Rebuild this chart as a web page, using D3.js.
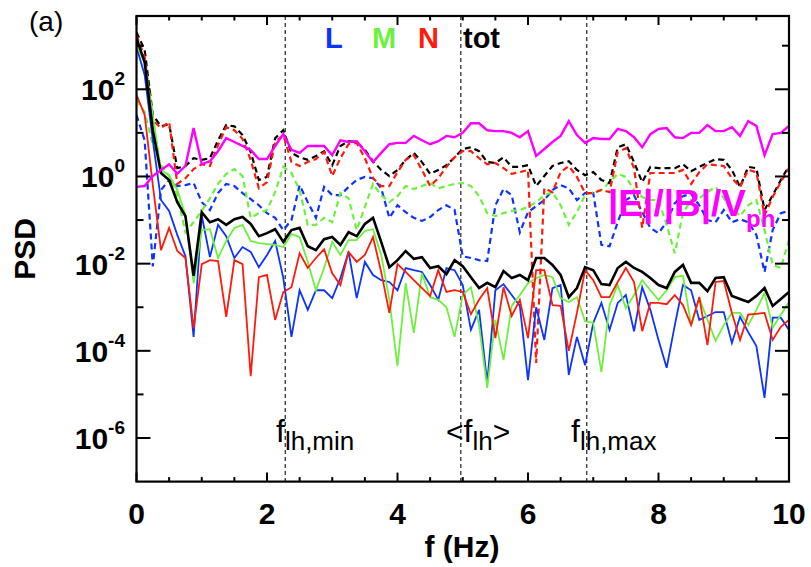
<!DOCTYPE html>
<html>
<head>
<meta charset="utf-8">
<script src="https://cdn.jsdelivr.net/npm/d3@7"></script>
<style>
  html, body { margin: 0; padding: 0; background: #fff; }
  svg { display: block; font-family: "Liberation Sans", Arial, Helvetica, sans-serif; }
</style>
</head>
<body>
<svg id="chart" width="811" height="567"></svg>
<script>
// Spectral densities, 0 to 10 Hz at 0.125 Hz resolution, stored as log10(PSD).
const df = 0.125;
const nPts = 81;

// magnetic field components (solid) and total
const lgBL = [2.97,2.33,0.83,-0.54,-0.79,-1.34,-1.83,-3.68,-0.89,-1.85,-1.11,-1.37,-1.87,-1.62,-1.73,-2.08,-1.80,-1.48,-2.33,-3.68,-2.61,-3.06,-2.61,-2.61,-2.79,-2.33,-1.73,-2.79,-1.96,-2.26,-2.38,-2.42,-2.61,-2.10,-2.15,-2.19,-2.49,-2.83,-2.10,-2.15,-2.49,-3.52,-3.06,-4.74,-2.61,-2.47,-2.72,-2.97,-4.67,-3.00,-3.75,-2.56,-2.49,-4.55,-3.68,-4.33,-3.36,-2.90,-3.52,-2.90,-2.72,-3.55,-2.54,-3.06,-3.75,-4.39,-3.41,-2.49,-2.61,-3.29,-3.20,-3.11,-3.11,-3.82,-3.22,-3.57,-3.89,-5.08,-3.24,-3.24,-3.52];
const lgBM = [3.01,2.62,1.41,0.15,0.03,-0.31,-0.89,-2.45,-1.23,-1.21,-1.87,-1.48,-1.18,-1.11,-1.48,-1.53,-1.55,-1.57,-1.62,-1.32,-1.39,-1.96,-2.61,-2.10,-1.50,-1.80,-1.46,-1.46,-1.25,-1.21,-1.80,-2.83,-4.35,-2.45,-3.59,-2.22,-2.77,-2.83,-3.00,-3.68,-2.72,-2.54,-3.41,-4.85,-3.29,-4.21,-2.97,-2.72,-2.45,-2.33,-2.26,-2.31,-2.79,-2.88,-2.77,-3.32,-3.36,-4.49,-2.95,-2.49,-3.02,-2.72,-2.38,-2.61,-2.83,-2.61,-2.31,-2.28,-3.41,-2.79,-3.29,-3.77,-3.41,-3.13,-3.13,-3.41,-3.06,-2.67,-3.47,-3.17,-2.88];
const lgBN = [1.87,1.41,-0.20,-1.69,-1.18,-1.71,-1.87,-3.48,-2.01,-1.92,-1.94,-3.22,-1.92,-2.01,-4.58,-2.31,-2.26,-3.29,-2.65,-2.54,-1.76,-2.10,-1.87,-1.67,-2.22,-2.49,-1.73,-1.96,-1.80,-1.39,-2.19,-3.13,-2.01,-2.19,-2.38,-2.56,-2.74,-2.15,-2.65,-2.61,-2.65,-3.16,-2.83,-2.56,-3.71,-2.54,-3.20,-2.83,-3.71,-2.15,-2.15,-2.95,-2.97,-4.00,-3.13,-2.15,-2.38,-2.77,-2.77,-2.42,-2.10,-2.42,-3.55,-2.90,-2.90,-2.93,-2.72,-2.95,-3.41,-2.77,-3.87,-2.42,-2.40,-3.13,-3.75,-3.17,-3.15,-3.13,-3.75,-3.45,-3.29];
const lgBtot = [3.17,2.62,1.06,0.08,-0.08,-0.59,-0.91,-2.28,-0.82,-1.05,-0.98,-1.11,-0.98,-0.93,-1.09,-1.37,-1.30,-1.21,-1.50,-1.23,-1.18,-1.60,-1.69,-1.44,-1.39,-1.57,-1.28,-1.37,-1.09,-0.95,-1.50,-2.08,-1.92,-1.71,-1.89,-1.85,-2.10,-2.06,-2.24,-1.92,-2.06,-2.31,-2.56,-2.44,-2.54,-2.17,-2.33,-2.26,-2.38,-1.87,-1.87,-2.03,-2.26,-2.77,-2.56,-2.08,-2.15,-2.47,-2.49,-2.10,-1.96,-2.10,-2.19,-2.33,-2.49,-2.56,-2.19,-2.03,-2.44,-2.44,-2.63,-2.33,-2.31,-2.74,-2.81,-2.88,-2.74,-2.56,-2.97,-2.81,-2.65];

// electric field components (dashed) and total
const lgEL = [1.41,0.83,-2.06,-0.31,-0.08,-0.22,-0.20,-0.15,-0.59,-0.77,-0.38,-0.17,-0.22,-0.38,-0.52,-0.66,-0.84,-0.95,-1.23,-1.00,-0.20,-0.59,-0.95,-0.24,-0.43,-0.43,-0.24,-0.08,-0.01,-0.04,-0.27,-0.95,-0.66,-0.82,-0.95,-1.02,-0.93,-0.77,-0.66,-0.77,-1.83,-1.87,-1.92,-1.94,-0.66,-0.29,-0.43,-1.28,-0.82,-0.68,-0.54,-0.31,-0.20,-0.27,-0.54,-0.38,-0.38,-1.57,-1.60,-1.05,-0.54,-0.43,-0.82,-1.18,-1.30,-1.05,-0.61,-0.45,-0.40,-0.66,-1.00,-1.05,-0.77,-1.05,-0.98,-1.05,-1.34,-2.19,-1.23,-0.84,-0.79];
const lgEM = [1.75,1.48,0.72,0.26,0.01,-0.43,-1.28,-1.05,-0.79,-0.50,-0.17,0.06,0.17,0.01,-0.95,-0.84,-0.77,-0.36,0.22,0.08,-0.31,-1.11,-1.11,-0.95,-1.05,-0.38,-0.50,-1.23,-0.70,-0.17,-0.43,-0.59,-0.45,-0.22,-0.29,-0.22,-0.15,-0.27,-0.22,-0.17,-0.15,-0.22,-0.45,-0.84,-0.91,-0.84,-0.79,-0.77,-0.70,-0.59,-0.43,-0.36,-0.66,-1.11,-0.82,-0.43,-0.36,-0.31,-0.13,0.06,-0.01,-0.31,-0.47,-0.54,-0.54,-1.11,-1.76,-0.84,-0.54,-0.50,-0.36,-0.24,-0.50,-0.70,-0.91,-0.66,-0.54,-1.23,-2.03,-2.10,-1.46];
const lgEN = [3.24,2.74,1.29,1.11,1.25,-0.17,-0.04,0.17,0.28,0.24,0.72,1.13,1.06,0.86,0.38,-0.27,-0.13,0.79,0.95,0.33,0.24,0.33,0.40,0.56,0.01,0.42,0.74,0.77,0.42,-0.04,-0.22,-0.22,0.10,0.38,0.49,0.15,-0.22,-0.04,0.22,0.44,0.58,0.58,0.42,0.28,0.31,0.19,0.06,0.10,0.15,-4.28,-0.27,-0.36,0.10,0.24,-0.01,-0.38,-0.38,-0.31,-0.36,0.56,0.65,0.19,-1.18,0.08,0.08,0.08,0.08,0.15,-0.17,0.10,0.28,0.26,0.24,-0.04,-0.24,0.15,0.10,-0.89,-0.47,-0.13,0.19];
const lgEtot = [3.31,2.90,1.41,1.15,1.20,0.19,0.24,0.42,0.38,0.42,0.83,1.18,1.15,0.95,0.56,-0.08,-0.01,0.88,1.06,0.54,0.44,0.38,0.47,0.58,0.26,0.70,0.81,0.79,0.61,0.35,0.15,0.01,0.15,0.38,0.54,0.33,0.06,0.15,0.26,0.44,0.63,0.67,0.58,0.33,0.31,0.44,0.22,0.22,0.26,-0.22,0.01,0.24,0.31,0.35,0.15,0.03,0.10,-0.08,-0.15,0.67,0.74,0.33,-0.13,0.22,0.19,0.19,0.19,0.28,0.12,0.22,0.31,0.40,0.38,0.15,-0.24,0.22,0.19,-0.77,-0.43,-0.08,0.24];

// |E|/|B|/V_ph
const lgRatio = [-0.24,-0.22,0.01,0.15,0.28,0.06,0.24,1.11,0.28,0.35,0.58,0.88,0.79,0.70,0.61,0.40,0.40,0.70,0.97,0.61,0.54,0.70,0.70,0.70,0.49,0.83,0.79,0.81,0.58,0.33,0.54,0.74,0.77,0.77,0.93,0.83,0.74,0.81,0.93,0.90,1.00,1.22,1.22,1.06,1.04,1.04,1.00,0.90,1.04,0.47,0.63,0.79,0.93,1.27,0.95,0.77,0.88,0.86,0.86,1.09,1.04,0.90,0.67,0.97,1.09,1.11,0.90,0.88,1.00,1.00,1.18,1.04,1.04,1.13,0.93,1.27,1.16,0.49,0.97,1.00,1.16];

// lower-hybrid frequency markers (Hz)
const fLhMin = 2.28, fLhMean = 4.97, fLhMax = 6.90;

const xMajor = [0, 2, 4, 6, 8, 10];
const yMajorExp = [-6, -4, -2, 0, 2];
const yMinorExp = [-5, -3, -1, 1, 3];

const colL = "#0c33ff", colM = "#6cf23c", colN = "#ff1a0a", colTot = "#000000", colRatio = "#ff00ff";

const svg = d3.select("#chart");
const L = 136.5, R = 789, T = 16, B = 481.6;

const x = d3.scaleLinear().domain([0, 10]).range([L, R]);
const y = d3.scaleLog().domain([1e-7, 4.8e3]).range([B, T]);

const freq = d3.range(nPts).map(i => i * df);
const toPts = arr => arr.map((v, i) => ({ f: freq[i], p: Math.pow(10, v) }));

const plot = svg.append("g");
svg.append("defs").append("clipPath").attr("id", "pclip")
  .append("rect").attr("x", L).attr("y", T).attr("width", R - L).attr("height", B - T);

// reference lines at the lower-hybrid frequencies
[fLhMin, fLhMean, fLhMax].forEach(fv => {
  plot.append("line")
    .attr("x1", x(fv)).attr("x2", x(fv)).attr("y1", T).attr("y2", B)
    .attr("stroke", "#333").attr("stroke-width", 1.3).attr("stroke-dasharray", "4,3");
});

const line = d3.line().x(d => x(d.f)).y(d => y(d.p));
const lines = plot.append("g").attr("clip-path", "url(#pclip)");

function drawSeries(arr, color, width, dash) {
  lines.append("path")
    .datum(toPts(arr))
    .attr("d", line)
    .attr("fill", "none")
    .attr("stroke", color)
    .attr("stroke-width", width)
    .attr("stroke-linejoin", "miter")
    .attr("stroke-dasharray", dash || null);
}

drawSeries(lgEL, colL, 2.2, "6,4");
drawSeries(lgEM, colM, 2.2, "6,4");
drawSeries(lgEtot, colTot, 2.2, "6,4");
drawSeries(lgEN, colN, 2.2, "6,4");
drawSeries(lgBL, colL, 1.8);
drawSeries(lgBM, colM, 1.8);
drawSeries(lgBN, colN, 1.8);
drawSeries(lgBtot, colTot, 2.6);
drawSeries(lgRatio, colRatio, 2.4);

// axes (ticks pointing inward)
const xMinor = d3.range(0, 10.01, 0.5).filter(v => !xMajor.includes(v));
const axG = svg.append("g").attr("stroke", "#000");
function xTicks(vals, len) {
  vals.forEach(v => {
    axG.append("line").attr("x1", x(v)).attr("x2", x(v)).attr("y1", B).attr("y2", B - len).attr("stroke-width", 2);
    axG.append("line").attr("x1", x(v)).attr("x2", x(v)).attr("y1", T).attr("y2", T + len).attr("stroke-width", 2);
  });
}
xTicks(xMajor, 9);
xTicks(xMinor, 4.5);
function yTicks(exps, len) {
  exps.forEach(e => {
    const yy = y(Math.pow(10, e));
    axG.append("line").attr("x1", L).attr("x2", L + len).attr("y1", yy).attr("y2", yy).attr("stroke-width", 2);
    axG.append("line").attr("x1", R).attr("x2", R - len).attr("y1", yy).attr("y2", yy).attr("stroke-width", 2);
  });
}
yTicks(yMajorExp, 14);
yTicks(yMinorExp, 7);

svg.append("rect").attr("x", L).attr("y", T).attr("width", R - L).attr("height", B - T)
  .attr("fill", "none").attr("stroke", "#000").attr("stroke-width", 2.2);

// tick labels
xMajor.forEach(v => {
  svg.append("text").attr("x", x(v)).attr("y", 524).attr("text-anchor", "middle")
    .attr("font-size", 30).attr("font-weight", "bold").text(v);
});
yMajorExp.forEach(e => {
  const yy = y(Math.pow(10, e));
  const t = svg.append("text").attr("x", 125).attr("y", yy + 11).attr("text-anchor", "end")
    .attr("font-weight", "bold");
  t.append("tspan").attr("font-size", 30).text("10");
  t.append("tspan").attr("font-size", 19).attr("dy", -15).text(e);
});

// axis titles
svg.append("text").attr("x", 462).attr("y", 557).attr("text-anchor", "middle")
  .attr("font-size", 30).attr("font-weight", "bold").text("f (Hz)");
svg.append("text").attr("transform", "translate(35,249) rotate(-90)").attr("text-anchor", "middle")
  .attr("font-size", 30).attr("font-weight", "bold").text("PSD");

// panel tag
svg.append("text").attr("x", 29).attr("y", 31).attr("font-size", 28).text("(a)");

// component legend
const legend = [["L", colL, 325], ["M", colM, 372], ["N", colN, 418], ["tot", colTot, 463]];
legend.forEach(([s, c, lx]) => {
  svg.append("text").attr("x", lx).attr("y", 48).attr("font-size", 29).attr("font-weight", "bold")
    .attr("fill", c).text(s);
});

// ratio label
const rl = svg.append("text").attr("x", 608).attr("y", 216).attr("fill", colRatio).attr("font-weight", "bold");
rl.append("tspan").attr("font-size", 37).text("|E|/|B|/V");
rl.append("tspan").attr("font-size", 24).attr("dy", 11).text("ph");

// lower-hybrid labels
function fLabel(xp, sub, pre, post) {
  const t = svg.append("text").attr("x", xp).attr("y", 442).attr("fill", "#000");
  if (pre) t.append("tspan").attr("font-size", 30).text(pre);
  t.append("tspan").attr("font-size", 32).text("f");
  t.append("tspan").attr("font-size", 26).attr("dy", 8).text(sub);
  if (post) t.append("tspan").attr("font-size", 30).attr("dy", -8).text(post);
}
fLabel(276, "lh,min");
fLabel(446, "lh", "<", ">");
fLabel(571, "lh,max");
</script>
</body>
</html>
